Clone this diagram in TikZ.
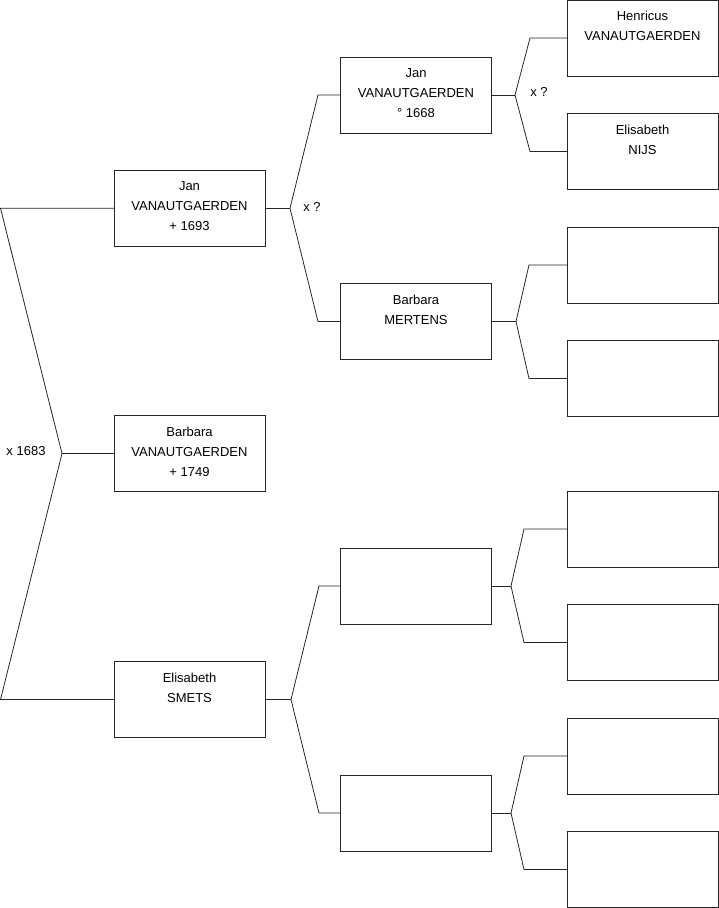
\documentclass[tikz,border=0pt]{standalone}
\usepackage{fontspec}
\setmainfont{Liberation Sans}
\newcommand{\famtext}[1]{\vbox to 76pt{\hsize=151pt\parindent=0pt\centering\baselineskip=20pt\leavevmode\vrule width 0pt height 20.7pt\relax #1\par\vfil}}
\begin{document}
\begin{tikzpicture}[x=1pt,y=-1pt,
  person/.style={draw=black!85, line width=0.8pt, inner sep=0pt, outer sep=0pt, font=\fontsize{13}{20}\selectfont},
  conn/.style={draw=black!85, line width=0.8pt},
  marr/.style={inner sep=0pt, font=\fontsize{13}{15}\selectfont}]
\useasboundingbox (0,0) rectangle (719,908);
% level 1
\node[person] (A) at (189.5,208.25) {\famtext{Jan\\VANAUTGAERDEN\\+ 1693}};
\node[person] (B) at (189.5,453.5) {\famtext{Barbara\\VANAUTGAERDEN\\+ 1749}};
\node[person] (C) at (189.5,699.5) {\famtext{Elisabeth\\SMETS}};
% level 2
\node[person] (D) at (416,95) {\famtext{Jan\\VANAUTGAERDEN\\° 1668}};
\node[person] (E) at (416,321.5) {\famtext{Barbara\\MERTENS}};
\node[person] (F) at (416,586) {\famtext{}};
\node[person] (G) at (416,813) {\famtext{}};
% level 3
\node[person] (H1) at (642.5,38) {\famtext{Henricus\\VANAUTGAERDEN}};
\node[person] (H2) at (642.5,151.5) {\famtext{Elisabeth\\NIJS}};
\node[person] (H3) at (642.5,265) {\famtext{}};
\node[person] (H4) at (642.5,378.5) {\famtext{}};
\node[person] (H5) at (642.5,529) {\famtext{}};
\node[person] (H6) at (642.5,642.5) {\famtext{}};
\node[person] (H7) at (642.5,756) {\famtext{}};
\node[person] (H8) at (642.5,869.5) {\famtext{}};
% fork coordinates
\coordinate (rA) at (0.5,208.25);
\coordinate (rC) at (0.5,699.5);
\coordinate (rX) at (62,453.5);
\coordinate (aX) at (290,208.25);
\coordinate (aD) at (318,95);
\coordinate (aE) at (318,321.5);
\coordinate (cX) at (291,699.5);
\coordinate (cF) at (319,586);
\coordinate (cG) at (319,813);
\coordinate (dX) at (515,95);
\coordinate (d1) at (530,38);
\coordinate (d2) at (530,151.5);
\coordinate (eX) at (516,321.5);
\coordinate (e1) at (529,265);
\coordinate (e2) at (529,378.5);
\coordinate (fX) at (511,586);
\coordinate (f1) at (524,529);
\coordinate (f2) at (524,642.5);
\coordinate (gX) at (511,813);
\coordinate (g1) at (524,756);
\coordinate (g2) at (524,869.5);
% connectors
\draw[conn] (A.west) -- (rA) -- (rX) -- (rC) -- (C.west);
\draw[conn] (rX) -- (B.west);
\draw[conn] (D.west) -- (aD) -- (aX) -- (aE) -- (E.west);
\draw[conn] (A.east) -- (aX);
\draw[conn] (F.west) -- (cF) -- (cX) -- (cG) -- (G.west);
\draw[conn] (C.east) -- (cX);
\draw[conn] (H1.west) -- (d1) -- (dX) -- (d2) -- (H2.west);
\draw[conn] (D.east) -- (dX);
\draw[conn] (H3.west) -- (e1) -- (eX) -- (e2) -- (H4.west);
\draw[conn] (E.east) -- (eX);
\draw[conn] (H5.west) -- (f1) -- (fX) -- (f2) -- (H6.west);
\draw[conn] (F.east) -- (fX);
\draw[conn] (H7.west) -- (g1) -- (gX) -- (g2) -- (H8.west);
\draw[conn] (G.east) -- (gX);
% marriage labels
\node[marr] (m1) at (26,451.5) {x 1683};
\node[marr] (m2) at (312,207) {x ?};
\node[marr] (m3) at (539,92) {x ?};
\end{tikzpicture}
\end{document}
